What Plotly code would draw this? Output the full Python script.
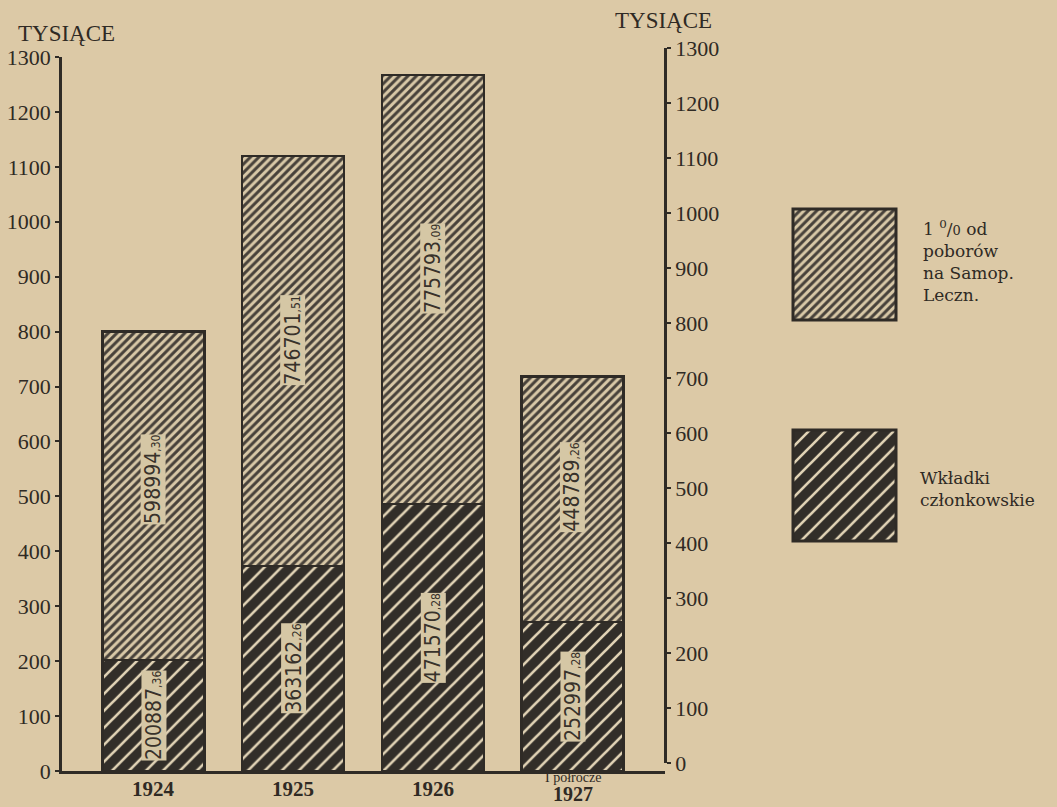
import plotly.graph_objects as go

# ---------------- data ----------------
categories = ["1924", "1925", "1926", "1927"]
category_labels = ["1924", "1925", "1926", "1927"]
category_prefix = ["", "", "", "I półrocze"]

# printed values (zł)
wkladki = [200887.36, 363162.26, 471570.28, 252997.28]          # Wkładki członkowskie
procent = [598994.30, 746701.51, 775793.09, 448789.26]          # 1% od poborów

# heights as drawn in the picture (thousands)
bottom_drawn = [202, 373, 486, 271]
total_drawn = [800, 1120, 1267, 718]

y_ticks = list(range(0, 1301, 100))

legend_texts = [
    "1 <sup>0</sup>/<span style='font-size:13px'>0</span> od<br>poborów<br>na Samop.<br>Leczn.",
    "Wkładki<br>członkowskie",
]

# ---------------- styling ----------------
W, H = 1057, 807
BG = "#dcc9a6"
DARK = "#322e29"
OUT = "#2f2b26"
LIGHT_LINE = "#e2d4b6"
HATCH_DARK = "#47413a"
TXT = "#2f2a24"
SERIF = "Liberation Serif, DejaVu Serif, serif"
NARROW = "Liberation Sans Narrow, DejaVu Sans Condensed, Arial Narrow, sans-serif"


def px(x):
    return x / W


def py(y):
    return (H - y) / H


def fmt(v):
    whole = int(v)
    dec = int(round((v - whole) * 100))
    return f"{whole}<span style='font-size:12px'>,{dec:02d}</span>"


top_drawn = [t - b for t, b in zip(total_drawn, bottom_drawn)]

dark_pattern = dict(shape="/", fgcolor=LIGHT_LINE, bgcolor=DARK, size=12, solidity=0.22)
light_pattern = dict(shape="/", fgcolor=HATCH_DARK, bgcolor="#d8c8a7", size=6, solidity=0.5)

fig = go.Figure()
fig.add_trace(go.Bar(
    x=categories, y=bottom_drawn, width=0.73, name="Wkładki członkowskie",
    marker=dict(color=DARK, pattern=dark_pattern, line=dict(color=OUT, width=2.5)),
    hoverinfo="skip", showlegend=False,
))
fig.add_trace(go.Bar(
    x=categories, y=top_drawn, width=0.73, name="1% od poborów",
    marker=dict(color="#d8c8a7", pattern=light_pattern, line=dict(color=OUT, width=2.5)),
    hoverinfo="skip", showlegend=False,
))
# invisible trace to activate right axis
fig.add_trace(go.Scatter(
    x=categories, y=total_drawn, yaxis="y2", mode="markers",
    marker=dict(opacity=0), hoverinfo="skip", showlegend=False,
))

# legend swatches
fig.add_trace(go.Bar(
    x=[0], y=[1], width=1, xaxis="x3", yaxis="y3",
    marker=dict(color="#d8c8a7", pattern=light_pattern, line=dict(width=0)),
    hoverinfo="skip", showlegend=False,
))
fig.add_trace(go.Bar(
    x=[0], y=[1], width=1, xaxis="x4", yaxis="y4",
    marker=dict(color=DARK, pattern=dark_pattern, line=dict(width=0)),
    hoverinfo="skip", showlegend=False,
))

axis_common = dict(
    range=[0, 1300], tickvals=y_ticks, ticks="outside", ticklen=4, tickwidth=2,
    tickcolor=OUT, showline=True, linecolor=OUT, linewidth=2.5, showgrid=False,
    zeroline=False, tickfont=dict(family=SERIF, size=22, color=TXT),
    fixedrange=True, automargin=False,
)
hidden = dict(visible=False, fixedrange=True, automargin=False)

fig.update_layout(
    template="none",
    width=W, height=H, autosize=False,
    margin=dict(l=0, r=0, t=0, b=0, pad=0),
    paper_bgcolor=BG, plot_bgcolor="rgba(0,0,0,0)",
    barmode="stack", showlegend=False,
    xaxis=dict(domain=[px(62), px(665)], type="category", range=[-0.655, 3.662],
               showline=True, linecolor=OUT, linewidth=2.5, showticklabels=False,
               ticks="", showgrid=False, zeroline=False, fixedrange=True, automargin=False),
    yaxis=dict(**axis_common, side="left", anchor="x", domain=[py(771), py(57)]),
    yaxis2=dict(**axis_common, side="right", anchor="free", position=px(665),
                domain=[py(763), py(48)]),
    xaxis3=dict(domain=[px(793), px(896)], range=[-0.5, 0.5], **hidden),
    yaxis3=dict(domain=[py(320), py(209)], range=[0, 1], anchor="x3", **hidden),
    xaxis4=dict(domain=[px(793), px(896)], range=[-0.5, 0.5], **hidden),
    yaxis4=dict(domain=[py(541), py(430)], range=[0, 1], anchor="x4", **hidden),
)

shapes = []
for (y0, y1) in [(209, 320), (430, 541)]:
    shapes.append(dict(type="rect", xref="paper", yref="paper",
                       x0=px(793), x1=px(896), y0=py(y1), y1=py(y0),
                       line=dict(color=OUT, width=3), fillcolor="rgba(0,0,0,0)"))
fig.update_layout(shapes=shapes)

C = dict(xanchor="center", yanchor="middle", showarrow=False)
ann = []
# axis titles
ann.append(dict(text="TYSIĄCE", xref="paper", yref="paper", x=px(66), y=py(33),
                font=dict(family=SERIF, size=23, color=TXT), **C))
ann.append(dict(text="TYSIĄCE", xref="paper", yref="paper", x=px(663), y=py(21),
                font=dict(family=SERIF, size=23, color=TXT), **C))

# category labels (category axis: annotation x uses the category index)
for i, (lab, pre) in enumerate(zip(category_labels, category_prefix)):
    if pre:
        ann.append(dict(text=pre, xref="x", yref="paper", x=i, y=py(777),
                        font=dict(family=SERIF, size=14, color=TXT), **C))
        ann.append(dict(text=f"<b>{lab}</b>", xref="x", yref="paper", x=i, y=py(794),
                        font=dict(family=SERIF, size=20, color=TXT), **C))
    else:
        ann.append(dict(text=f"<b>{lab}</b>", xref="x", yref="paper", x=i, y=py(789),
                        font=dict(family=SERIF, size=21, color=TXT), **C))

# value labels inside bars
for i, (w, p, b, t) in enumerate(zip(wkladki, procent, bottom_drawn, total_drawn)):
    ann.append(dict(text=fmt(w), xref="x", yref="y", x=i, y=b * 0.5,
                    textangle=-90, bgcolor="#d5c7a5", borderpad=0,
                    font=dict(family=NARROW, size=21, color="#38322b"), **C))
    ann.append(dict(text=fmt(p), xref="x", yref="y", x=i, y=b + 0.55 * (t - b),
                    textangle=-90, bgcolor="#d5c7a5", borderpad=0,
                    font=dict(family=NARROW, size=21, color="#38322b"), **C))

# legend texts
ann.append(dict(text=legend_texts[0], xref="paper", yref="paper", x=px(921), y=py(261),
                xanchor="left", yanchor="middle", align="left", showarrow=False,
                font=dict(family="DejaVu Serif, serif", size=17, color=TXT)))
ann.append(dict(text=legend_texts[1], xref="paper", yref="paper", x=px(918), y=py(489),
                xanchor="left", yanchor="middle", align="left", showarrow=False,
                font=dict(family="DejaVu Serif, serif", size=17, color=TXT)))

fig.update_layout(annotations=ann)

fig.write_html(
    "out.html",
    config={"displayModeBar": False},
    post_script="document.body.style.margin='0';document.body.style.padding='0';"
                "document.body.style.overflow='hidden';",
)
